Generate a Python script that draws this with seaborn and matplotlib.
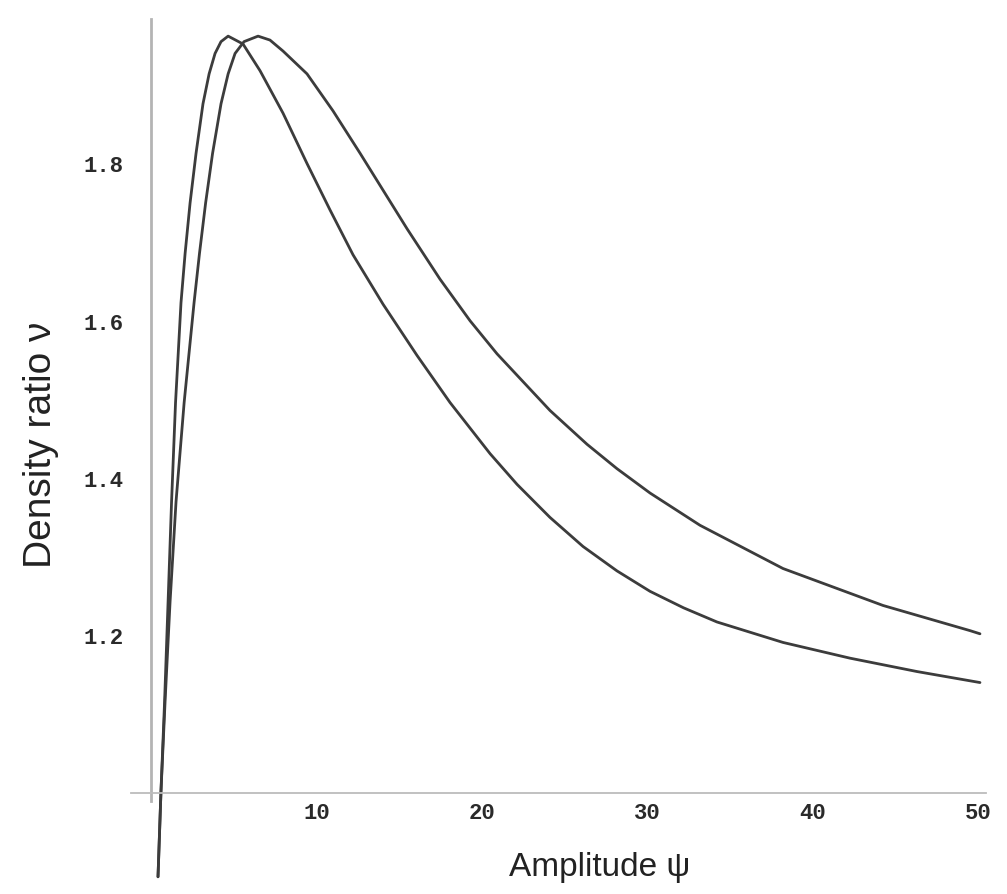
import numpy as np
import pandas as pd
import matplotlib
matplotlib.use("Agg")
import matplotlib.pyplot as plt
import seaborn as sns

# Curve A (peak near psi ~ 4.7, decays faster)
psi_a = [0.42, 0.60, 0.82, 1.03, 1.24, 1.48, 1.81, 2.06, 2.36, 2.72, 3.14, 3.51, 3.87, 4.23,
         4.66, 5.56, 6.59, 7.98, 9.43, 10.82, 12.21, 14.03, 16.08, 18.08, 20.50, 22.13,
         24.12, 26.12, 28.17, 30.17, 32.20, 34.22, 38.21, 42.26, 46.31, 50.12]
nu_a = [0.894, 1.003, 1.118, 1.244, 1.371, 1.497, 1.624, 1.687, 1.751, 1.814, 1.877, 1.915,
        1.941, 1.956, 1.963, 1.953, 1.919, 1.865, 1.801, 1.742, 1.685, 1.622, 1.557, 1.497,
        1.432, 1.393, 1.351, 1.314, 1.283, 1.257, 1.236, 1.218, 1.192, 1.172, 1.155, 1.141]

# Curve B (peak near psi ~ 6.5, decays slower)
psi_b = [0.42, 0.60, 0.85, 1.15, 1.51, 2.00, 2.60, 2.93, 3.30, 3.72, 4.23, 4.66, 5.08, 5.62,
         6.47, 7.19, 7.98, 9.43, 11.00, 12.64, 14.03, 15.48, 17.47, 19.29, 20.92, 24.12,
         26.36, 28.17, 30.17, 33.19, 38.21, 44.26, 49.52, 50.12]
nu_b = [0.894, 1.003, 1.118, 1.244, 1.371, 1.497, 1.624, 1.687, 1.751, 1.814, 1.877, 1.915,
        1.941, 1.956, 1.963, 1.958, 1.944, 1.915, 1.868, 1.814, 1.767, 1.718, 1.654, 1.601,
        1.559, 1.487, 1.444, 1.413, 1.382, 1.341, 1.286, 1.239, 1.207, 1.203]

xticks = [10, 20, 30, 40, 50]
yticks = [1.2, 1.4, 1.6, 1.8]
xlabel = "Amplitude \u03c8"
ylabel = "Density ratio \u03bd"

sns.set_theme(style="white")
plt.rcParams['font.family'] = ['Liberation Sans', 'DejaVu Sans']

df = pd.concat([
    pd.DataFrame({"psi": psi_a, "nu": nu_a, "curve": "A"}),
    pd.DataFrame({"psi": psi_b, "nu": nu_b, "curve": "B"}),
])

fig = plt.figure(figsize=(10.07, 8.94), dpi=100)
ax = fig.add_axes([0.1303, 0.00694, 0.8491, 0.972])
sns.lineplot(data=df, x="psi", y="nu", hue="curve", palette=["#3c3c3c", "#3c3c3c"],
             estimator=None, sort=False, linewidth=2.0, legend=False, ax=ax)

for line in ax.get_lines():
    line.set_solid_joinstyle("round")
    line.set_solid_capstyle("round")

ax.set_xlim(-1.2, 50.5)
ax.set_ylim(0.88, 1.985)

for s in ["top", "right"]:
    ax.spines[s].set_visible(False)
ax.spines["left"].set_position(("data", 0))
ax.spines["bottom"].set_position(("data", 1.0))
ax.spines["left"].set_color("#b4b4b4")
ax.spines["left"].set_linewidth(2.0)
ax.spines["bottom"].set_color("#bcbcbc")
ax.spines["bottom"].set_linewidth(1.3)
ax.spines["left"].set_bounds(0.99, 1.985)

ax.set_xticks(xticks)
ax.set_yticks(yticks)
ax.set_xticklabels([str(v) for v in xticks])
ax.set_yticklabels([f"{v:.1f}" for v in yticks])
ax.tick_params(axis="both", direction="in", length=4, width=1, color="#b4b4b4")
ax.tick_params(axis="x", pad=7)
ax.tick_params(axis="y", pad=20)
for lab in ax.get_xticklabels() + ax.get_yticklabels():
    lab.set_family(["Liberation Mono", "DejaVu Sans Mono"])
    lab.set_fontweight("bold")
    lab.set_fontsize(16)
    lab.set_color("#2a2a2a")

ax.set_xlabel(xlabel, fontsize=24, color="#222222")
ax.set_ylabel(ylabel, fontsize=28, color="#222222")
ax.xaxis.set_label_coords(0.548, 0.0228)
ax.xaxis.label.set_va("center")
ax.yaxis.set_label_coords(-0.106, 0.51)
ax.yaxis.label.set_va("center")

ax.set_facecolor("white")
fig.patch.set_facecolor("white")
fig.savefig("out.png", dpi=100)
